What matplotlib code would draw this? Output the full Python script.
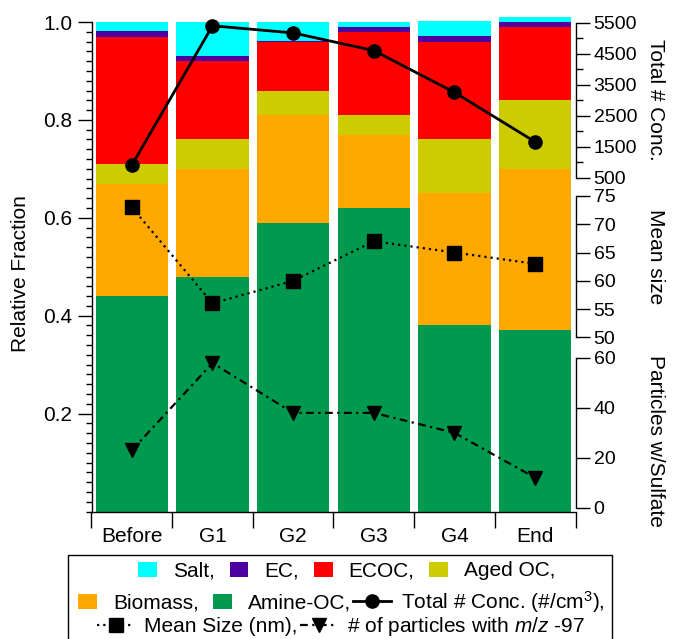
import numpy as np
import matplotlib
matplotlib.use("Agg")
import matplotlib.pyplot as plt
from matplotlib.ticker import MultipleLocator, NullFormatter
from matplotlib.patches import Rectangle
from matplotlib.legend_handler import HandlerPatch
from matplotlib.container import BarContainer

plt.rcParams["font.family"] = ["Liberation Sans", "DejaVu Sans"]
plt.rcParams["mathtext.fontset"] = "custom"
plt.rcParams["mathtext.rm"] = "Liberation Sans"
plt.rcParams["mathtext.it"] = "Liberation Sans:italic"

# ---------------- data ----------------
cats = ["Before", "G1", "G2", "G3", "G4", "End"]

amine_oc = [0.44, 0.48, 0.59, 0.62, 0.38, 0.37]
biomass  = [0.23, 0.22, 0.22, 0.15, 0.27, 0.33]
aged_oc  = [0.04, 0.06, 0.05, 0.04, 0.11, 0.14]
ecoc     = [0.26, 0.16, 0.10, 0.17, 0.20, 0.15]
ec       = [0.011, 0.01, 0.002, 0.01, 0.011, 0.01]
salt     = [0.02, 0.07, 0.038, 0.01, 0.031, 0.011]

total_conc = [900, 5400, 5170, 4600, 3250, 1650]
mean_size  = [73, 56, 60, 67, 65, 63]
sulfate_n  = [23, 58, 38, 38, 30, 12]

stack_vals   = [amine_oc, biomass, aged_oc, ecoc, ec, salt]
stack_names  = ["Amine-OC,", "Biomass,", "Aged OC,", "ECOC,", "EC,", "Salt,"]
stack_colors = ["#009A4E", "#FFA800", "#CCCC00", "#FF0000", "#4F00A0", "#00FFFF"]

# ---------------- layout ----------------
FW, FH = 680, 639
fig = plt.figure(figsize=(FW / 100, FH / 100), dpi=100)
L = 91.5 / FW
W = (575.5 - 91.5) / FW


def fy(px):
    return 1 - px / FH


x = np.arange(len(cats))

ax = fig.add_axes([L, fy(511.5), W, (511.5 - 22) / FH])
bottom = np.zeros(len(cats))
bars = {}
for vals, name, col in zip(stack_vals, stack_names, stack_colors):
    bars[name] = ax.bar(x, vals, 0.9, bottom=bottom, color=col,
                        edgecolor="none", clip_on=False)
    bottom += np.array(vals)

ax.set_xlim(-0.5, len(cats) - 0.5)
ax.set_ylim(0, 1.0)
ax.set_xticks(np.arange(-0.5, len(cats), 1.0))
ax.xaxis.set_major_formatter(NullFormatter())
ax.set_xticks(x, minor=True)
ax.set_xticklabels(cats, minor=True)
ax.tick_params(axis="x", which="major", length=11.5, width=1, direction="out")
ax.tick_params(axis="x", which="minor", length=0, pad=11, labelsize=15)
ax.set_yticks([0.2, 0.4, 0.6, 0.8, 1.0])
ax.yaxis.set_minor_locator(MultipleLocator(0.02))
ax.tick_params(axis="y", which="major", length=10, width=1, pad=4, labelsize=15)
ax.tick_params(axis="y", which="minor", length=4.3, width=1)
ax.spines["top"].set_visible(False)
ax.spines["right"].set_visible(False)
for s in ["left", "bottom"]:
    ax.spines[s].set_linewidth(1)


def right_axis(top_px, bot_px, lo, hi, ticks):
    a = fig.add_axes([L, fy(bot_px), W, (bot_px - top_px) / FH])
    a.set_xlim(-0.5, len(cats) - 0.5)
    a.set_ylim(lo, hi)
    a.patch.set_visible(False)
    for s in ["left", "top", "bottom"]:
        a.spines[s].set_visible(False)
    a.spines["right"].set_linewidth(1)
    a.xaxis.set_visible(False)
    a.yaxis.tick_right()
    a.set_yticks(ticks)
    a.tick_params(axis="y", which="major", length=10, width=1, pad=3, labelsize=14)
    return a


ax_tot = right_axis(22.7, 177.5, 500, 5500, np.arange(500, 5501, 1000))
ax_tot.yaxis.set_minor_locator(MultipleLocator(500))
ax_tot.tick_params(axis="y", which="minor", length=5, width=1)
ax_size = right_axis(196, 337.3, 50, 75, np.arange(50, 76, 5))
ax_sul = right_axis(358, 507.7, 0, 60, [0, 20, 40, 60])

ln_tot, = ax_tot.plot(x, total_conc, "-", color="black", lw=2, marker="o",
                      ms=9.5, clip_on=False)
ln_size, = ax_size.plot(x, mean_size, color="black", lw=1.6,
                        linestyle=(0, (1, 1.8)), marker="s", ms=10, clip_on=False)
ln_sul, = ax_sul.plot(x, sulfate_n, color="black", lw=1.6,
                      linestyle=(0, (3.5, 2, 1, 2)), marker="v", ms=9.5,
                      clip_on=False)

# ---------------- axis titles ----------------
fig.text(21 / FW, fy(274), "Relative Fraction", rotation=90, fontsize=15,
         ha="center", va="center")
fig.text(655 / FW, fy(100), "Total # Conc.", rotation=270, fontsize=15,
         ha="center", va="center")
fig.text(655 / FW, fy(257), "Mean size", rotation=270, fontsize=15,
         ha="center", va="center")
fig.text(655 / FW, fy(441), "Particles w/Sulfate", rotation=270, fontsize=15,
         ha="center", va="center")


# ---------------- legend ----------------
def small_patch(legend, orig_handle, xdescent, ydescent, width, height, fontsize):
    return Rectangle((-xdescent + 0.34 * width, -ydescent), 0.5 * width, height)


hmap = {BarContainer: HandlerPatch(patch_func=small_patch,
                                   update_func=lambda h, o: h.update_from(o[0]))}

rows = [
    ([bars["Salt,"], bars["EC,"], bars["ECOC,"], bars["Aged OC,"]],
     ["Salt,", "EC,", "ECOC,", "Aged OC,"], 340.5, 571),
    ([bars["Biomass,"], bars["Amine-OC,"], ln_tot],
     ["Biomass,", "Amine-OC,", "Total # Conc. (#/cm$^{3}$),"], 335, 602),
    ([ln_size, ln_sul],
     ["Mean Size (nm),", "# of particles with $m/z$ -97"], 341, 627),
]
for handles, labels, cx, cy in rows:
    fig.legend(handles, labels, loc="center", bbox_to_anchor=(cx / FW, fy(cy)),
               ncol=len(handles), frameon=False, fontsize=15, handlelength=1.8,
               handletextpad=0.48, columnspacing=0.1, borderpad=0,
               borderaxespad=0, handler_map=hmap)

fig.patches.append(Rectangle((68 / FW, -0.02), (612 - 68) / FW, fy(555) + 0.02,
                             transform=fig.transFigure, fill=False,
                             edgecolor="black", lw=1))

fig.savefig("out.png", dpi=100)
